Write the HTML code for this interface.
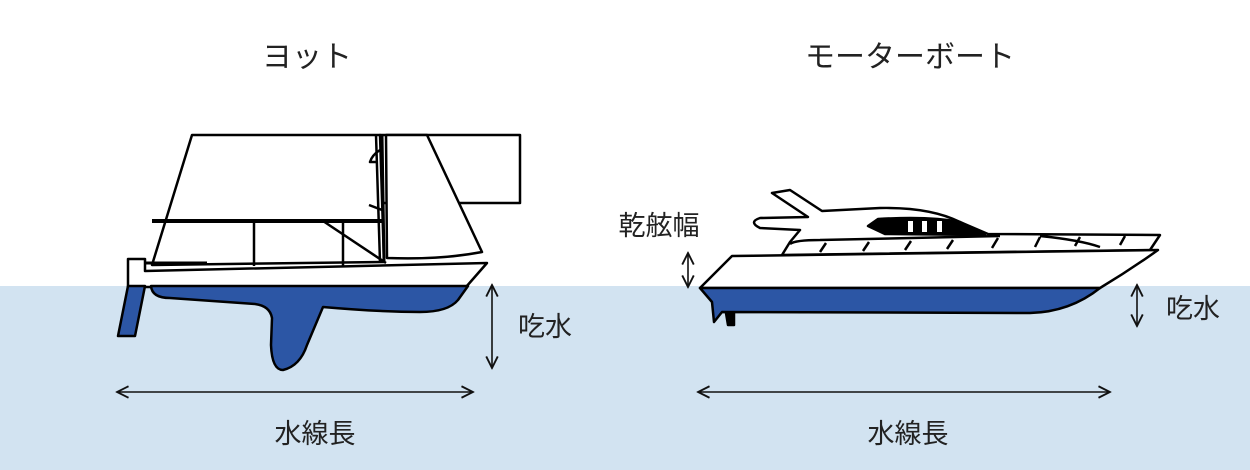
<!DOCTYPE html>
<html><head><meta charset="utf-8"><style>
html,body{margin:0;padding:0;background:#fff}
svg{display:block}
text{font-family:"Liberation Sans","Noto Sans CJK JP",sans-serif;fill:#222}
</style></head><body>
<svg width="1250" height="470" viewBox="0 0 1250 470" xmlns="http://www.w3.org/2000/svg">
<defs>
<marker id="a" viewBox="0 0 10 10" refX="9" refY="5" markerWidth="9" markerHeight="9" orient="auto-start-reverse"><path d="M1,1 L9,5 L1,9" fill="none" stroke="#111" stroke-width="1.3"/></marker>
</defs>
<rect x="0" y="286" width="1250" height="184" fill="#d2e3f1"/>
<text x="307" y="67" font-size="30" text-anchor="middle">ヨット</text>
<text x="910" y="67" font-size="30" text-anchor="middle">モーターボート</text>

<g stroke="#000" stroke-width="2.5" fill="#fff" stroke-linejoin="round">
<rect x="380" y="135" width="140" height="68"/>
<path d="M192,135 L380,135 L384,262 L152,265 Z"/>
<path d="M427,135 L482,252 Q440,260 387,258 L386,135 Z"/>
<path d="M376,135 L380,262" fill="none"/>
<path d="M382,135 L384,262" fill="none" stroke-width="3"/>
<path d="M380,150 Q372,155 370,162 L378,162" fill="none"/>
<line x1="152" y1="221" x2="382" y2="221" stroke-width="4"/>
<line x1="254" y1="221" x2="254" y2="266"/>
<line x1="343" y1="221" x2="343" y2="266"/>
<line x1="323" y1="221" x2="386" y2="263"/>
<line x1="369" y1="205" x2="382" y2="210"/>
<path d="M128,259 L145,259 L145,271 L487,263 L466,287 L128,287 Z"/>
<line x1="145" y1="263" x2="207" y2="263" stroke-width="3"/>
<path d="M151,286 Q152,298 170,298 Q225,302 255,304 Q270,306 272,318 L271,345 Q272,370 283,370 Q300,366 307,345 L323,307 Q380,312 420,312 Q448,312 458,300 L468,286 Z" fill="#2c56a5"/>
<path d="M128,286 L145,286 L135,336 L118,336 Z" fill="#2c56a5"/>
<path d="M772,193 L790,190 L822,211 L880,208 Q930,207 960,222 L988,234 L1160,235 L1150,250 L782,255 L790,242 L800,230 L760,228 Q748,222 760,218 L808,217 Z"/>
<path d="M878,219 Q930,216 960,222 L985,235 L885,234 L868,226 Z" fill="#000"/>
<rect x="908" y="221" width="5" height="11" fill="#fff" stroke="none"/>
<rect x="922" y="221" width="5" height="11" fill="#fff" stroke="none"/>
<rect x="937" y="221" width="5" height="11" fill="#fff" stroke="none"/>
<path d="M790,244 Q795,240 820,240 L1000,236 M820,252 L826,243 M863,251 L869,242 M905,250 L911,241 M947,249 L953,240 M992,248 L998,238 M1035,247 L1040,237 M1075,246 L1080,237 M1120,245 L1125,236 M1040,236 Q1080,240 1100,247" fill="none"/>
<path d="M732,256 L1158,250 Q1130,270 1100,288 L700,288 Z"/>
<path d="M700,288 L1100,288 Q1070,312 1030,313 L722,312 L714,322 L712,302 Z" fill="#2c56a5"/>
<path d="M726,313 L734,313 L734,325 L728,325 Z" fill="#000"/>
</g>

<g stroke="#111" stroke-width="1.6" fill="none">
<line x1="492" y1="285" x2="492" y2="368" marker-start="url(#a)" marker-end="url(#a)"/>
<line x1="117" y1="392" x2="473" y2="392" marker-start="url(#a)" marker-end="url(#a)"/>
<line x1="688" y1="253" x2="688" y2="287" marker-start="url(#a)" marker-end="url(#a)"/>
<line x1="1137" y1="285" x2="1137" y2="326" marker-start="url(#a)" marker-end="url(#a)"/>
<line x1="698" y1="392" x2="1110" y2="392" marker-start="url(#a)" marker-end="url(#a)"/>
</g>
<text x="545" y="336" font-size="27" text-anchor="middle">吃水</text>
<text x="1193" y="318" font-size="27" text-anchor="middle">吃水</text>
<text x="659" y="235" font-size="27" text-anchor="middle">乾舷幅</text>
<text x="315" y="443" font-size="27" text-anchor="middle">水線長</text>
<text x="908" y="443" font-size="27" text-anchor="middle">水線長</text>
</svg>
</body></html>
